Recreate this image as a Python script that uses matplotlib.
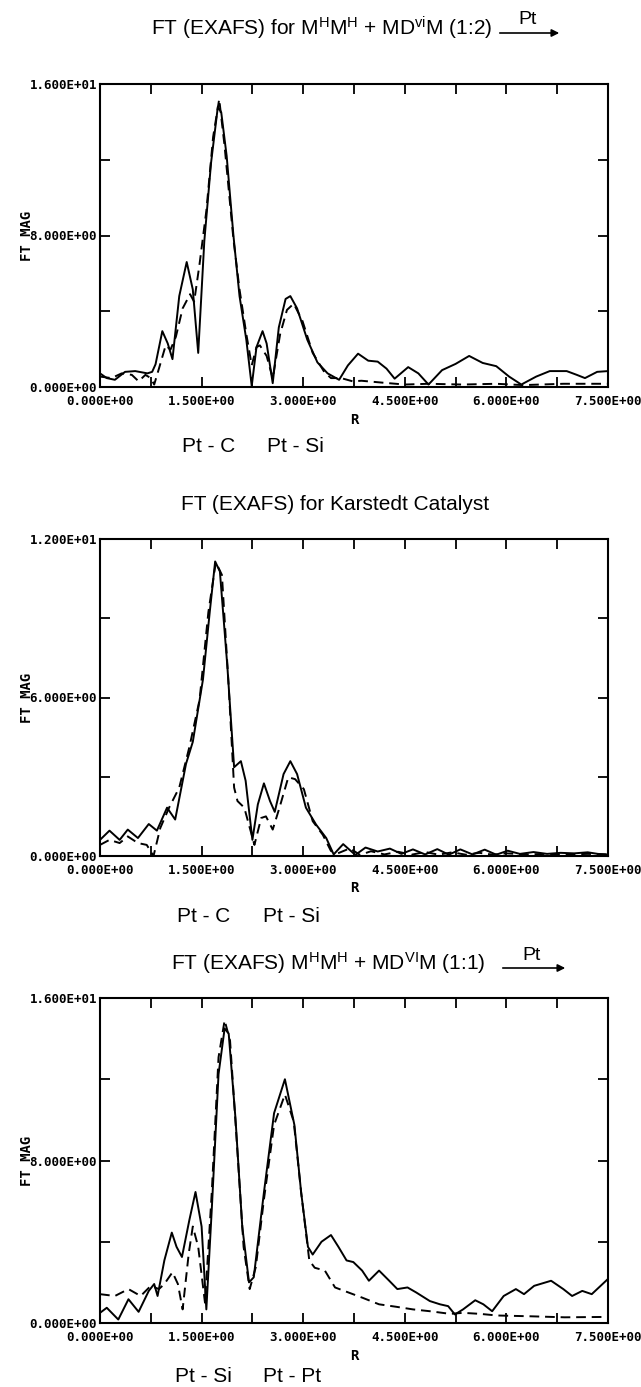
import matplotlib
matplotlib.use("Agg")
import matplotlib.pyplot as plt
import numpy as np

plt.rcParams['mathtext.fontset'] = 'custom'
plt.rcParams['mathtext.rm'] = 'Liberation Sans'
plt.rcParams['mathtext.it'] = 'Liberation Sans'

# panel 1: M^H M^H + MD^vi M (1:2)
r1_solid = [0.0, 0.1, 0.22, 0.37, 0.52, 0.70, 0.77, 0.82, 0.92, 1.0, 1.07, 1.17, 1.28, 1.37, 1.45,
            1.54, 1.64, 1.74, 1.79, 1.87, 1.97, 2.06, 2.16, 2.24, 2.31, 2.40, 2.46, 2.55, 2.64,
            2.74, 2.81, 2.91, 3.06, 3.21, 3.36, 3.53, 3.66, 3.81, 3.96, 4.10, 4.23, 4.35, 4.55,
            4.70, 4.85, 5.05, 5.25, 5.45, 5.65, 5.85, 6.04, 6.22, 6.44, 6.64, 6.89, 7.04, 7.16,
            7.34, 7.5]
ft1_solid = [0.72, 0.47, 0.38, 0.80, 0.84, 0.72, 0.80, 1.2, 2.95, 2.3, 1.47, 4.8, 6.6, 5.15, 1.8,
             7.7, 11.85, 14.8, 14.5, 12.2, 8.0, 4.8, 2.5, 0.05, 2.1, 2.95, 2.3, 0.2, 3.15,
             4.65, 4.8, 4.15, 2.5, 1.3, 0.72, 0.38, 1.14, 1.76, 1.39, 1.34, 0.97, 0.44, 1.05,
             0.72, 0.13, 0.89, 1.22, 1.64, 1.27, 1.1, 0.55, 0.13, 0.55, 0.84, 0.84, 0.64, 0.47,
             0.80, 0.84]
r1_dash = [0.0, 0.17, 0.32, 0.47, 0.57, 0.67, 0.75, 0.80, 0.87, 0.97, 1.04, 1.12, 1.22, 1.33,
           1.39, 1.47, 1.57, 1.67, 1.76, 1.84, 1.97, 2.06, 2.16, 2.24, 2.31, 2.36, 2.46, 2.55,
           2.66, 2.76, 2.86, 2.99, 3.14, 3.31, 3.41, 3.56, 3.73, 3.86, 4.2, 4.5, 4.85, 5.35,
           5.85, 6.25, 6.84, 7.5]
ft1_dash = [0.55, 0.47, 0.72, 0.64, 0.30, 0.64, 0.47, 0.13, 0.97, 2.2, 1.97, 2.65, 4.15, 4.9,
            4.5, 6.5, 9.3, 13.2, 15.2, 12.7, 7.8, 5.15, 2.8, 1.14, 2.1, 2.2, 1.64, 0.47,
            2.8, 4.07, 4.4, 3.48, 1.8, 0.80, 0.47, 0.47, 0.30, 0.33, 0.22, 0.13, 0.17, 0.13,
            0.17, 0.10, 0.17, 0.17]

# panel 2: Karstedt catalyst
r2_solid = [0.0, 0.14, 0.29, 0.41, 0.56, 0.72, 0.84, 0.99, 1.11, 1.27, 1.37, 1.52, 1.62, 1.70,
            1.77, 1.88, 1.98, 2.08, 2.15, 2.25, 2.33, 2.42, 2.51, 2.58, 2.71, 2.81, 2.91, 3.04,
            3.19, 3.34, 3.45, 3.59, 3.77, 3.92, 4.10, 4.28, 4.45, 4.62, 4.80, 4.98, 5.15, 5.32,
            5.50, 5.68, 5.85, 6.02, 6.20, 6.40, 6.60, 6.80, 7.0, 7.2, 7.35, 7.5]
ft2_solid = [0.61, 0.96, 0.61, 1.0, 0.68, 1.21, 0.96, 1.83, 1.38, 3.49, 4.32, 6.68, 9.23, 11.15,
             10.77, 7.19, 3.36, 3.59, 2.85, 0.61, 1.95, 2.75, 2.08, 1.67, 3.1, 3.59, 3.1, 1.83,
             1.19, 0.68, 0.06, 0.45, 0.04, 0.32, 0.17, 0.28, 0.08, 0.25, 0.06, 0.26, 0.05, 0.25,
             0.06, 0.24, 0.05, 0.2, 0.08, 0.15, 0.08, 0.12, 0.1, 0.14, 0.08, 0.05]
r2_dash = [0.0, 0.14, 0.29, 0.41, 0.56, 0.69, 0.79, 0.89, 1.02, 1.17, 1.32, 1.47, 1.60, 1.71,
           1.80, 1.90, 1.98, 2.03, 2.13, 2.28, 2.38, 2.45, 2.55, 2.65, 2.78, 2.88, 3.01, 3.14,
           3.29, 3.41, 3.51, 3.69, 3.84, 4.0, 4.2, 4.4, 4.6, 4.8, 5.0, 5.2, 5.4, 5.6, 5.8, 6.0,
           6.3, 6.6, 6.9, 7.2, 7.5]
ft2_dash = [0.42, 0.61, 0.49, 0.74, 0.49, 0.42, 0.0, 1.06, 1.83, 2.59, 4.13, 5.91, 9.23, 11.12,
            10.64, 6.42, 2.59, 2.08, 1.83, 0.42, 1.44, 1.5, 1.0, 1.83, 2.98, 2.91, 2.53, 1.32,
            0.8, 0.19, 0.1, 0.29, 0.04, 0.18, 0.06, 0.16, 0.05, 0.15, 0.05, 0.14, 0.05, 0.12,
            0.05, 0.1, 0.06, 0.08, 0.06, 0.08, 0.06]

# panel 3: M^H M^H + MD^VI M (1:1)
r3_solid = [0.0, 0.10, 0.27, 0.42, 0.57, 0.72, 0.80, 0.85, 0.95, 1.06, 1.13, 1.21, 1.32, 1.41,
            1.50, 1.57, 1.65, 1.75, 1.84, 1.90, 2.0, 2.10, 2.20, 2.27, 2.42, 2.57, 2.73, 2.87,
            2.97, 3.07, 3.14, 3.27, 3.41, 3.52, 3.64, 3.74, 3.87, 3.97, 4.12, 4.27, 4.39, 4.54,
            4.67, 4.87, 5.02, 5.14, 5.24, 5.36, 5.54, 5.66, 5.79, 5.96, 6.14, 6.26, 6.41, 6.66,
            6.84, 6.97, 7.12, 7.26, 7.5]
ft3_solid = [0.5, 0.75, 0.17, 1.17, 0.55, 1.58, 1.92, 1.33, 3.08, 4.45, 3.75, 3.25, 5.08, 6.45,
             4.75, 0.67, 5.58, 12.25, 14.5, 14.25, 10.08, 4.75, 2.0, 2.25, 6.42, 10.33, 12.0, 9.75,
             6.42, 3.75, 3.37, 4.0, 4.33, 3.75, 3.08, 3.0, 2.58, 2.08, 2.58, 2.08, 1.67, 1.75,
             1.5, 1.08, 0.92, 0.83, 0.42, 0.67, 1.12, 0.92, 0.58, 1.33, 1.67, 1.42, 1.83, 2.08,
             1.67, 1.33, 1.58, 1.42, 2.17]
r3_dash = [0.0, 0.22, 0.42, 0.60, 0.75, 0.87, 0.95, 1.07, 1.15, 1.22, 1.31, 1.37, 1.45, 1.55,
           1.65, 1.75, 1.84, 1.92, 2.02, 2.12, 2.21, 2.30, 2.42, 2.57, 2.73, 2.86, 2.97, 3.09,
           3.17, 3.32, 3.47, 3.67, 3.87, 4.12, 4.37, 4.62, 4.87, 5.17, 5.36, 5.61, 5.86, 6.36,
           6.86, 7.5]
ft3_dash = [1.42, 1.33, 1.67, 1.33, 1.83, 1.67, 1.92, 2.5, 1.92, 0.67, 3.42, 4.75, 3.75, 1.0,
            6.42, 13.08, 14.9, 13.9, 8.9, 3.75, 1.67, 2.75, 6.08, 9.75, 11.25, 9.92, 6.42, 3.08,
            2.72, 2.58, 1.75, 1.5, 1.25, 0.92, 0.8, 0.67, 0.58, 0.45, 0.5, 0.45, 0.37, 0.33,
            0.28, 0.3]

xticks = [0.0, 1.5, 3.0, 4.5, 6.0, 7.5]

tickfont = dict(family='DejaVu Sans Mono', weight='bold', size=9)
labelfont = dict(family='DejaVu Sans Mono', weight='bold', size=10)
title_font = 'Liberation Sans'


def fmt(v):
    return '%.3E' % v


def setup(ax, ymax):
    ax.set_xlim(0, 7.5)
    ax.set_ylim(0, ymax)
    ax.set_xticks(xticks)
    ax.set_xticks(np.arange(0.75, 7.5, 1.5), minor=True)
    ax.set_xticklabels([fmt(v) for v in xticks], fontdict=tickfont)
    ax.set_yticks([0, ymax / 2, ymax])
    ax.set_yticks([ymax / 4, 3 * ymax / 4], minor=True)
    ax.set_yticklabels([fmt(v) for v in [0, ymax / 2, ymax]], fontdict=tickfont)
    ax.tick_params(which='both', direction='in', top=True, right=True, width=1.3, length=7)
    ax.tick_params(axis='x', which='major', pad=6)
    ax.tick_params(axis='y', which='major', pad=2)
    for s in ax.spines.values():
        s.set_linewidth(1.5)
    ax.set_xlabel('R', fontdict=labelfont, labelpad=3)
    ax.set_ylabel('FT MAG', fontdict=labelfont, labelpad=-3)


fig = plt.figure(figsize=(6.41, 13.87), dpi=100)
H = 1387.0
W = 641.0


def add_axes(top, bottom):
    return fig.add_axes([100 / W, 1 - bottom / H, 508 / W, (bottom - top) / H])


ax1 = add_axes(84, 387)
ax1.plot(r1_solid, ft1_solid, 'k-', lw=1.4)
ax1.plot(r1_dash, ft1_dash, 'k--', lw=1.4, dashes=(5, 3))
setup(ax1, 16.0)

ax2 = add_axes(539, 856)
ax2.plot(r2_solid, ft2_solid, 'k-', lw=1.4)
ax2.plot(r2_dash, ft2_dash, 'k--', lw=1.4, dashes=(5, 3))
setup(ax2, 12.0)

ax3 = add_axes(998, 1323)
ax3.plot(r3_solid, ft3_solid, 'k-', lw=1.4)
ax3.plot(r3_dash, ft3_dash, 'k--', lw=1.4, dashes=(5, 3))
setup(ax3, 16.0)


def ftext(x, y, s, size=15, ha='center'):
    fig.text(x / W, 1 - y / H, s, ha=ha, va='center', fontsize=size, family=title_font)


def pt_arrow(x0, x1, y):
    ftext((x0 + x1) / 2 - 2, y - 13, 'Pt', size=14)
    fig.add_artist(matplotlib.patches.FancyArrowPatch(
        (x0 / W, 1 - y / H), (x1 / W, 1 - y / H),
        transform=fig.transFigure, arrowstyle='-|>', mutation_scale=11, lw=1.2, color='k'))


ftext(322, 28, r'FT (EXAFS) for M$^{\mathrm{H}}$M$^{\mathrm{H}}$ + MD$^{\mathrm{vi}}$M (1:2)')
pt_arrow(497, 562, 33)
ftext(209, 447, 'Pt - C')
ftext(295, 447, 'Pt - Si')

ftext(335, 504, 'FT (EXAFS) for Karstedt Catalyst')
ftext(204, 916, 'Pt - C')
ftext(291, 916, 'Pt - Si')

ftext(328, 963, r'FT (EXAFS) M$^{\mathrm{H}}$M$^{\mathrm{H}}$ + MD$^{\mathrm{VI}}$M (1:1)')
pt_arrow(500, 568, 968)
ftext(203, 1376, 'Pt - Si')
ftext(292, 1376, 'Pt - Pt')

fig.savefig('out.png', dpi=100)
plt.close(fig)
